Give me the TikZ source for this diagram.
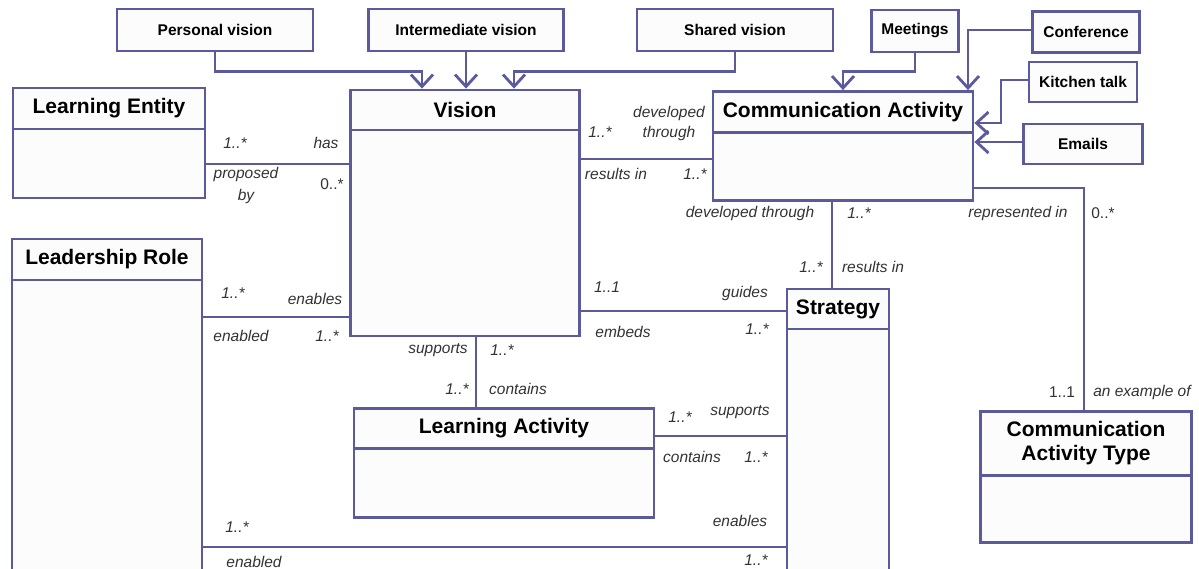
\documentclass[tikz,border=0pt]{standalone}
\usepackage{fontspec}
\setmainfont{Liberation Sans}
\usetikzlibrary{arrows.meta}
\definecolor{umlblue}{HTML}{5A5A9C}
\definecolor{boxfill}{HTML}{FCFCFD}
\definecolor{rolegray}{HTML}{333333}
\tikzset{
  umlline/.style={draw=umlblue, line width=2.8pt},
  navarrow/.style={umlline, -{Straight Barb[length=12pt,width=22pt]}},
  smallbox/.style={umlline, fill=boxfill, font=\fontsize{15.5}{18}\selectfont\bfseries},
  classbox/.style={umlline, fill=boxfill},
  classhead/.style={umlline, fill=boxfill, anchor=north, align=center, font=\fontsize{21}{24}\selectfont\bfseries},
  role/.style={inner sep=0pt, text=rolegray, font=\fontsize{15.5}{18}\selectfont\itshape},
  mult/.style={inner sep=0pt, text=rolegray, font=\fontsize{15.5}{18}\selectfont},
}
\begin{document}
\begin{tikzpicture}[x=1pt, y=-1pt]
   \useasboundingbox (0,0) rectangle (1199,569);
   \fill[white] (0,0) rectangle (1199,569);
   % kinds of vision and of communication
   \node[smallbox, minimum width=196pt, minimum height=42pt] (pvision) at (215,30) {Personal vision};
   \node[smallbox, minimum width=195pt, minimum height=42pt] (ivision) at (466,30) {Intermediate vision};
   \node[smallbox, minimum width=196pt, minimum height=42pt] (svision) at (735,30) {Shared vision};
   \node[smallbox, minimum width=87pt, minimum height=42pt] (meetings) at (915,31) {Meetings};
   \node[smallbox, minimum width=107pt, minimum height=41pt] (conference) at (1086,32) {Conference};
   \node[smallbox, minimum width=108pt, minimum height=40pt] (kitchen) at (1083,82) {Kitchen talk};
   \node[smallbox, minimum width=119pt, minimum height=40pt] (emails) at (1083,144) {Emails};
   % classes
   \node[classbox, minimum width=192pt, minimum height=110pt] (lentity) at (109,143) {};
   \node[classhead, minimum width=192pt, minimum height=41pt] (lentityhead) at (lentity.north) {Learning Entity};
   \node[classbox, minimum width=190pt, minimum height=346pt] (lrole) at (107,412) {};
   \node[classhead, minimum width=190pt, minimum height=41pt] (lrolehead) at (lrole.north) {Leadership Role};
   \node[classbox, minimum width=229pt, minimum height=246pt] (vision) at (465,213) {};
   \node[classhead, minimum width=229pt, minimum height=40pt] (visionhead) at (vision.north) {Vision};
   \node[classbox, minimum width=260pt, minimum height=109pt] (commact) at (843,146) {};
   \node[classhead, minimum width=260pt, minimum height=41pt] (commacthead) at (commact.north) {Communication Activity};
   \node[classbox, minimum width=102pt, minimum height=296pt] (strategy) at (838,437) {};
   \node[classhead, minimum width=102pt, minimum height=40pt] (strategyhead) at (strategy.north) {Strategy};
   \node[classbox, minimum width=300pt, minimum height=109pt] (lactivity) at (504,463) {};
   \node[classhead, minimum width=300pt, minimum height=40pt] (lactivityhead) at (lactivity.north) {Learning Activity};
   \node[classbox, minimum width=211pt, minimum height=131pt] (cactype) at (1086,477) {};
   \node[classhead, minimum width=211pt, minimum height=64pt] (cactypehead) at (cactype.north) {Communication\\Activity Type};
   % navigation arrows
   \draw[navarrow] (pvision.south) -- ++(0,19) -| (vision.north -| 422,0);
   \draw[navarrow] (ivision.south) -- (vision.north -| ivision.south);
   \draw[navarrow] (svision.south) -- ++(0,19) -| (vision.north -| 514,0);
   \draw[navarrow] (meetings.south) -- ++(0,18) -| (commact.north);
   \draw[navarrow] (conference.west |- 0,30) -| (commact.north -| 968,0);
   \draw[navarrow] (kitchen.west |- 0,80) -| (1001,123) -- (commact.east |- 0,123);
   \draw[navarrow] (emails.west |- 0,142) -- (commact.east |- 0,142);
   % associations
   \draw[umlline] (lentity.east |- 0,164) -- (vision.west |- 0,164);
   \draw[umlline] (vision.east |- 0,159) -- (commact.west |- 0,159);
   \draw[umlline] (lrole.east |- 0,317) -- (vision.west |- 0,317);
   \draw[umlline] (vision.east |- 0,311) -- (strategy.west |- 0,311);
   \draw[umlline] (vision.south -| 476,0) -- (lactivity.north -| 476,0);
   \draw[umlline] (lactivity.east |- 0,436) -- (strategy.west |- 0,436);
   \draw[umlline] (lrole.east |- 0,547) -- (strategy.west |- 0,547);
   \draw[umlline] (commact.south -| 832,0) -- (strategyhead.north -| 832,0);
   \draw[umlline] (commact.east |- 0,188) -| (cactypehead.north -| 1084,0);
   % roles and multiplicities
   \node[role] (m1) at (235,143) {1..*};
   \node[role] (r1) at (326,143) {has};
   \node[role] (r2) at (246,174) {proposed};
   \node[role] (r3) at (246,196) {by};
   \node[mult] (m2) at (332,184) {0..*};
   \node[role] (m3) at (600,132) {1..*};
   \node[role] (r4) at (669,113) {developed};
   \node[role] (r5) at (669,133) {through};
   \node[role] (r6) at (616,174) {results in};
   \node[role] (m4) at (695,174) {1..*};
   \node[role] (r7) at (750,213) {developed through};
   \node[role] (m5) at (859,213) {1..*};
   \node[role] (r8) at (1018,213) {represented in};
   \node[mult] (m6) at (1103,213) {0..*};
   \node[role] (m7) at (811,267) {1..*};
   \node[role] (r9) at (873,267) {results in};
   \node[role] (m8) at (607,287) {1..1};
   \node[role] (r10) at (745,293) {guides};
   \node[role] (r11) at (623,332) {embeds};
   \node[role] (m9) at (757,329) {1..*};
   \node[role] (m10) at (233,293) {1..*};
   \node[role] (r12) at (315,299) {enables};
   \node[role] (r13) at (241,336) {enabled};
   \node[role] (m11) at (327,336) {1..*};
   \node[role] (r14) at (438,350) {supports};
   \node[role] (m12) at (502,350) {1..*};
   \node[role] (m13) at (457,389) {1..*};
   \node[role] (r15) at (518,389) {contains};
   \node[role] (m14) at (680,417) {1..*};
   \node[role] (r16) at (740,412) {supports};
   \node[role] (r17) at (692,457) {contains};
   \node[role] (m15) at (756,457) {1..*};
   \node[role] (r18) at (740,521) {enables};
   \node[role] (m16) at (237,527) {1..*};
   \node[role] (r19) at (254,562) {enabled};
   \node[role] (m17) at (756,560) {1..*};
   \node[mult] (m18) at (1062,392) {1..1};
   \node[role] (r20) at (1142,392) {an example of};
\end{tikzpicture}
\end{document}
